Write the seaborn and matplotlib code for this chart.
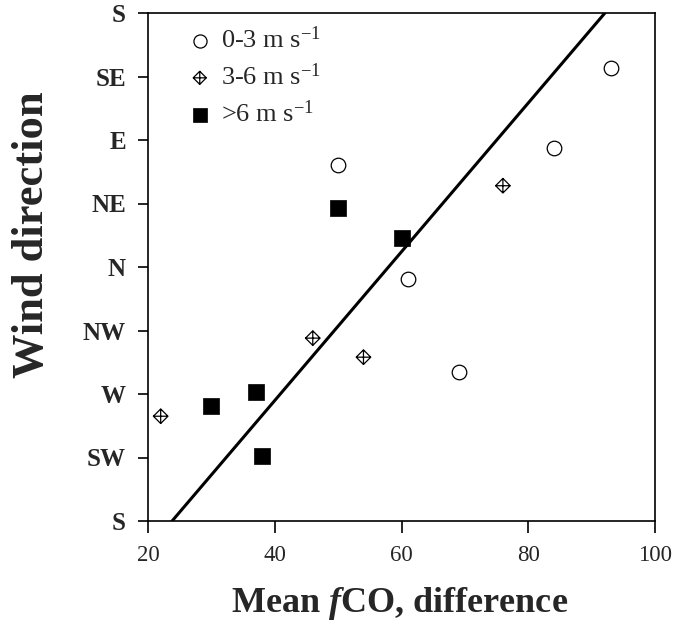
import numpy as np
import pandas as pd
import seaborn as sns
import matplotlib.pyplot as plt
from matplotlib.path import Path

# wind speed classes: mean fCO2 difference (x) vs wind direction index (0=S, 1=SW, ... 8=S)
calm_x = [50, 61, 69, 84, 93]
calm_y = [5.61, 3.81, 2.35, 5.87, 7.13]

mid_x = [22, 46, 54, 76]
mid_y = [1.65, 2.88, 2.58, 5.28]

strong_x = [50, 60, 30, 37, 38]
strong_y = [4.93, 4.46, 1.81, 2.03, 1.02]

# regression line end points
fit_x = [23.8, 92.1]
fit_y = [0.0, 8.0]

dir_labels = ['S', 'SW', 'W', 'NW', 'N', 'NE', 'E', 'SE', 'S']
xticks = [20, 40, 60, 80, 100]

sns.set_style("ticks")
plt.rcParams['font.family'] = ['Liberation Serif', 'DejaVu Serif']
plt.rcParams['mathtext.fontset'] = 'custom'
plt.rcParams['mathtext.rm'] = 'Liberation Serif'
plt.rcParams['mathtext.it'] = 'Liberation Serif:italic:bold'

# diamond with a cross inside
diamond_cross = Path(
    [(0, 1), (1, 0), (0, -1), (-1, 0), (0, 1), (0, 1), (0, -1), (-1, 0), (1, 0)],
    [Path.MOVETO, Path.LINETO, Path.LINETO, Path.LINETO, Path.CLOSEPOLY,
     Path.MOVETO, Path.LINETO, Path.MOVETO, Path.LINETO],
)

fig = plt.figure(figsize=(6.74, 6.25), dpi=100)
ax = fig.add_axes([0.2196, 0.1664, 0.7522, 0.8128])

calm = pd.DataFrame({'x': calm_x, 'y': calm_y})
mid = pd.DataFrame({'x': mid_x, 'y': mid_y})
strong = pd.DataFrame({'x': strong_x, 'y': strong_y})

sns.scatterplot(x='x', y='y', data=calm, ax=ax, marker='o', s=110,
                facecolor='white', edgecolor='black', linewidth=0.9,
                label=r'0-3 m s$^{-1}$', zorder=3)
sns.scatterplot(x='x', y='y', data=mid, ax=ax, marker=diamond_cross, s=110,
                facecolor='none', edgecolor='black', linewidth=0.9,
                label=r'3-6 m s$^{-1}$', zorder=3)
sns.scatterplot(x='x', y='y', data=strong, ax=ax, marker='s', s=120,
                color='black', edgecolor='black', linewidth=0.5,
                label=r'>6 m s$^{-1}$', zorder=3)

sns.lineplot(x=fit_x, y=fit_y, ax=ax, color='black', linewidth=2.2, zorder=2)

ax.set_xlim(20, 100)
ax.set_ylim(0, 8)
ax.set_xticks(xticks)
ax.set_xticklabels([str(t) for t in xticks], fontsize=16.5)
ax.set_yticks(range(len(dir_labels)))
ax.set_yticklabels(dir_labels, fontsize=18, fontweight='bold')
ax.tick_params(axis='x', length=8.5, width=1.2, pad=9, color='black')
ax.tick_params(axis='y', length=7, width=1.2, pad=9, color='black')
for sp in ax.spines.values():
    sp.set_linewidth(1.2)
    sp.set_color('black')

ax.set_xlabel(r'Mean $f$CO, difference', fontsize=26, fontweight='bold')
ax.set_ylabel('Wind direction', fontsize=32, fontweight='bold')
ax.xaxis.set_label_coords(0.497, -0.125)
ax.yaxis.set_label_coords(-0.19, 0.563)

ax.legend(loc='upper left', bbox_to_anchor=(0.05, 1.0), frameon=False,
          fontsize=19, handletextpad=0.3, labelspacing=0.4, handlelength=1.0,
          borderaxespad=0.1, markerscale=0.9)

fig.savefig('out.png', dpi=100)
